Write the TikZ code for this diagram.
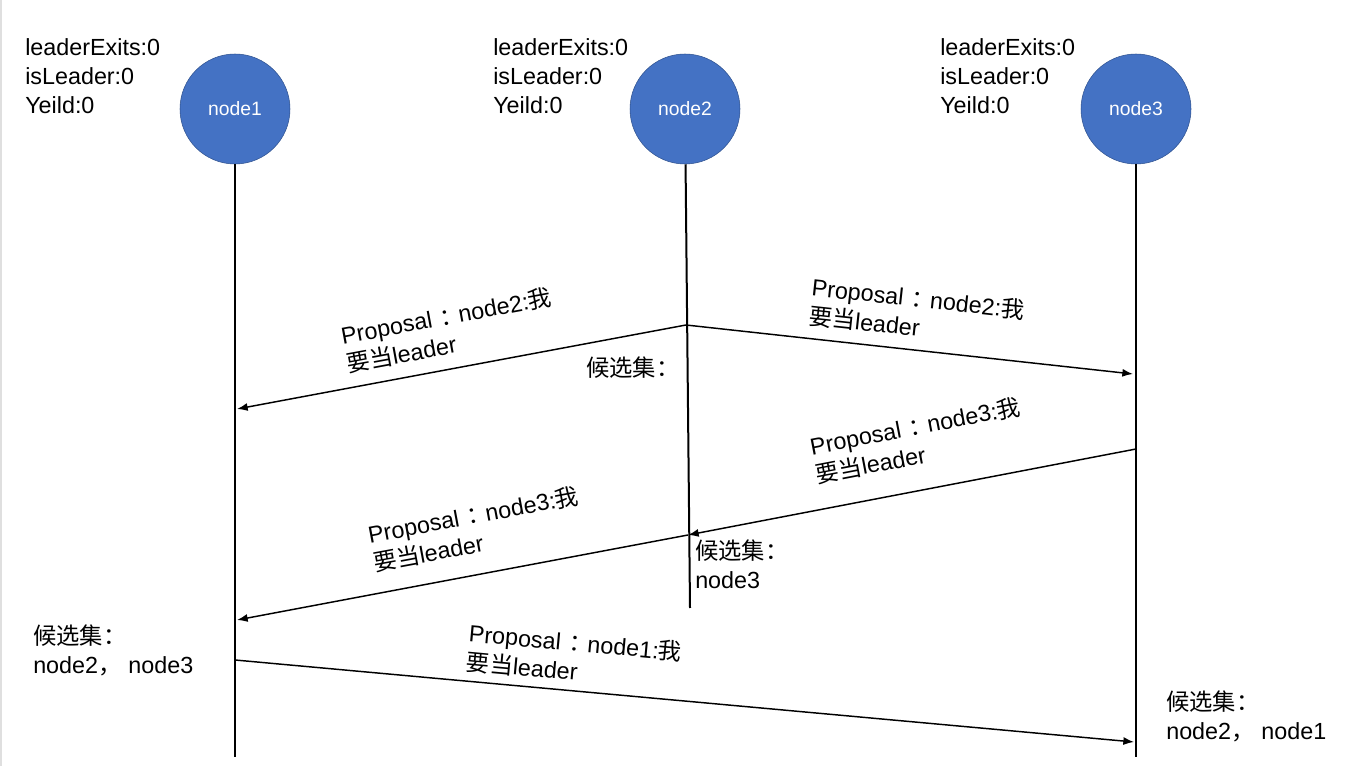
\documentclass[tikz,border=0pt]{standalone}
\usepackage{fontspec}
\setmainfont{Liberation Sans}
\newfontfamily\cjk{Noto Sans CJK SC}
\newcommand{\zh}[1]{{\cjk #1}}
\newcommand{\fwcolon}{\hspace{0.35em}\zh{：}\hspace{-0.2em}}
\newcommand{\fwcomma}{\zh{，}\hspace{0.3em}}
\usetikzlibrary{positioning,arrows.meta}

\definecolor{peerBlue}{HTML}{4472C4}
\definecolor{peerEdge}{HTML}{2F528F}

\tikzset{
	peer/.style={circle,draw=peerEdge,fill=peerBlue,minimum size=82.5pt,inner sep=0pt,
		text=white,font=\fontsize{14.5}{16}\selectfont},
	lifeline/.style={line width=1.5pt},
	msg/.style={-{Latex[length=8pt,width=6pt]},line width=1.1pt},
	note/.style={anchor=north west,inner sep=0pt,align=left}
}

\begin{document}
\begin{tikzpicture}[x=0.75pt,y=-0.75pt,every node/.style={font=\fontsize{17.5}{21.75}\selectfont}]
	\useasboundingbox (0,0) rectangle (1364,766);
	\draw[gray!25,line width=1.5pt] (1,0) -- (1,766);

	% peers
	\node[peer] (node1) at (235,109) {node1};
	\node[peer] (node2) at (685,109) {node2};
	\node[peer] (node3) at (1136,109) {node3};

	% state of every peer
	\foreach \n/\x in {1/25,2/493,3/940}
		\node[note] (state\n) at (\x,38) {leaderExits:0\\isLeader:0\\Yeild:0};

	% lifelines
	\coordinate (end1) at (235,757);
	\coordinate (end2) at (690,608);
	\coordinate (end3) at (1136,757);
	\draw[lifeline] (node1) -- (end1);
	\draw[lifeline] (node2) -- (end2);
	\draw[lifeline] (node3) -- (end3);

	% proposals
	\coordinate (send2) at (686,325);
	\coordinate (recv21) at (237,409);
	\coordinate (recv23) at (1133,374);
	\coordinate (send3) at (1136,449);
	\coordinate (recv32) at (688,535);
	\coordinate (recv31) at (237,620);
	\coordinate (send1) at (235,660);
	\coordinate (recv13) at (1134,742);

	\draw[msg] (send2) -- (recv21);
	\draw[msg] (send2) -- (recv23);
	\draw[msg] (send3) -- (recv32);
	\draw[msg] (recv32) -- (recv31);
	\draw[msg] (send1) -- (recv13);

	\node[note,rotate=10.5] (prop21) at (339,325) {Proposal\fwcolon node2:\zh{我}\\\zh{要当}leader};
	\node[note,rotate=-6.2] (prop23) at (813,276) {Proposal\fwcolon node2:\zh{我}\\\zh{要当}leader};
	\node[note,rotate=10.9] (prop32) at (808,436) {Proposal\fwcolon node3:\zh{我}\\\zh{要当}leader};
	\node[note,rotate=10.6] (prop31) at (366,524) {Proposal\fwcolon node3:\zh{我}\\\zh{要当}leader};
	\node[note,rotate=-5.2] (prop13) at (470,622) {Proposal\fwcolon node1:\zh{我}\\\zh{要当}leader};

	% candidate sets
	\node[note] (cand2a) at (586,357) {\zh{候选集：}};
	\node[note] (cand2b) at (695,540) {\zh{候选集：}\\node3};
	\node[note] (cand1) at (33,625) {\zh{候选集：}\\node2\fwcomma node3};
	\node[note] (cand3) at (1166,691) {\zh{候选集：}\\node2\fwcomma node1};
\end{tikzpicture}
\end{document}
